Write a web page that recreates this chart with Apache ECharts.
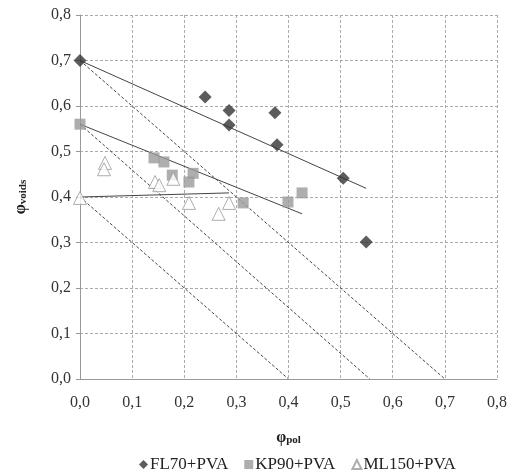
<!DOCTYPE html>
<html>
<head>
<meta charset="utf-8">
<script src="https://cdn.jsdelivr.net/npm/echarts@6/dist/echarts.min.js"></script>
<style>
    html, body { margin: 0; padding: 0; background: #fff; }
    #chart { width: 514px; height: 472px; }
</style>
</head>
<body>
<div id="chart"></div>
<script>
// measured points [phi_pol, phi_voids]
var fl70 = [[0, 0.70], [0.24, 0.62], [0.286, 0.59], [0.286, 0.558], [0.374, 0.585],
    [0.378, 0.515], [0.505, 0.441], [0.549, 0.301]];
var kp90 = [[0, 0.56], [0.142, 0.486], [0.161, 0.477], [0.177, 0.448], [0.209, 0.433],
    [0.217, 0.452], [0.313, 0.387], [0.399, 0.389], [0.426, 0.409]];
var ml150 = [[0, 0.398], [0.048, 0.475], [0.046, 0.461], [0.144, 0.433], [0.152, 0.426],
    [0.179, 0.44], [0.209, 0.387], [0.266, 0.363], [0.286, 0.387]];

// fitted trend lines (end points)
var fl70Trend = [[0, 0.70], [0.549, 0.419]];
var kp90Trend = [[0, 0.56], [0.426, 0.363]];
var ml150Trend = [[0, 0.40], [0.286, 0.409]];

// reference lines phi_voids + phi_pol = const
var refLines = [
    [[0, 0.70], [0.70, 0]],
    [[0, 0.56], [0.556, 0]],
    [[0, 0.40], [0.40, 0]]
];

var chart = echarts.init(document.getElementById('chart'));
var font = 'Liberation Serif';

function fmt(v) {
    return v.toFixed(1).replace('.', ',');
}

var series = [
    {
        name: 'FL70+PVA', type: 'scatter', data: fl70, symbol: 'diamond', symbolSize: 13,
        itemStyle: {color: '#333333'}, z: 5
    },
    {
        name: 'KP90+PVA', type: 'scatter', data: kp90, symbol: 'rect', symbolSize: 11,
        itemStyle: {color: '#9a9a9a'}, z: 4
    },
    {
        name: 'ML150+PVA', type: 'scatter', data: ml150, symbol: 'triangle', symbolSize: 13,
        itemStyle: {color: '#ffffff', borderColor: '#9a9a9a', borderWidth: 1}, z: 4
    }
];
[fl70Trend, kp90Trend, ml150Trend].forEach(function (d) {
    series.push({
        type: 'line', data: d, symbol: 'none', silent: true, z: 3,
        lineStyle: {color: '#444', width: 1}
    });
});
refLines.forEach(function (d) {
    series.push({
        type: 'line', data: d, symbol: 'none', silent: true, z: 3,
        lineStyle: {color: '#444', width: 1, type: [3, 2]}
    });
});

var option = {
    animation: false,
    backgroundColor: '#fff',
    grid: {left: 80, right: 17, top: 15, bottom: 93},
    legend: {
        data: ['FL70+PVA', 'KP90+PVA', 'ML150+PVA'],
        top: 451, left: 134,
        itemWidth: 9, itemHeight: 9, itemGap: 16,
        textStyle: {fontFamily: font, fontSize: 17, color: '#222', padding: [0, 0, 0, -3]}
    },
    xAxis: {
        type: 'value', min: 0, max: 0.8, interval: 0.1,
        name: '{b|φ}{s|pol}', nameLocation: 'middle', nameGap: 50,
        nameTextStyle: {
            rich: {
                b: {fontFamily: font, fontSize: 16, fontWeight: 'bold', color: '#222'},
                s: {fontFamily: font, fontSize: 11, fontWeight: 'bold', color: '#222', padding: [6, 0, 0, 0]}
            }
        },
        axisLine: {lineStyle: {color: '#999'}},
        axisTick: {show: false},
        axisLabel: {margin: 16, fontFamily: font, fontSize: 16, color: '#333', formatter: fmt},
        splitLine: {lineStyle: {color: '#aaa', type: [3, 2]}}
    },
    yAxis: {
        type: 'value', min: 0, max: 0.8, interval: 0.1,
        name: '{b|φ}{s|voids}', nameLocation: 'middle', nameGap: 51, nameRotate: 90,
        nameTextStyle: {
            rich: {
                b: {fontFamily: font, fontSize: 16, fontWeight: 'bold', color: '#222'},
                s: {fontFamily: font, fontSize: 11, fontWeight: 'bold', color: '#222', padding: [6, 0, 0, 0]}
            }
        },
        axisLine: {show: true, lineStyle: {color: '#999'}},
        axisTick: {show: true, length: 4, lineStyle: {color: '#999'}},
        axisLabel: {margin: 9, fontFamily: font, fontSize: 16, color: '#333', formatter: fmt},
        splitLine: {lineStyle: {color: '#aaa', type: [3, 2]}}
    },
    series: series
};
chart.setOption(option);
</script>
</body>
</html>
